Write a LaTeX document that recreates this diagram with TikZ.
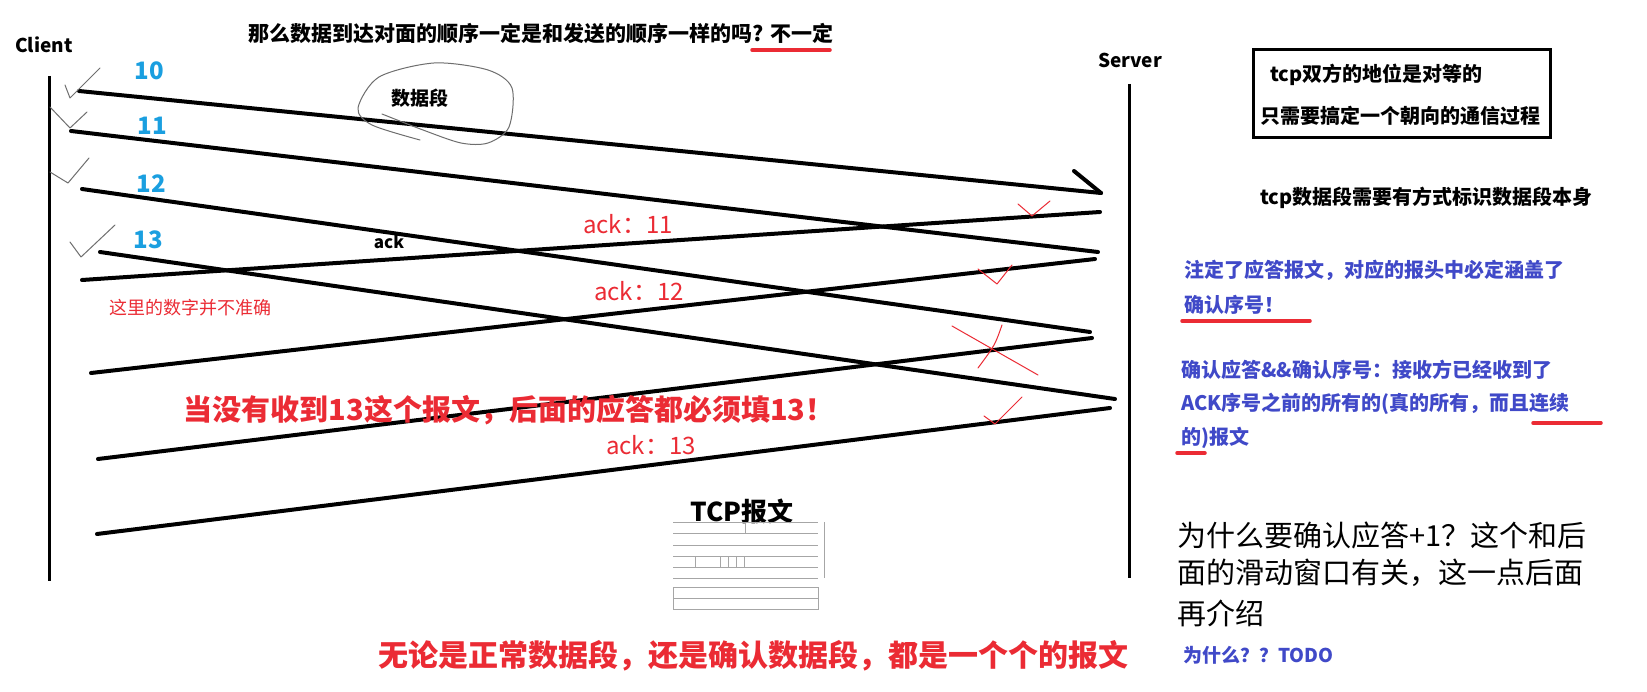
\documentclass[tikz,border=0pt]{standalone}
\usepackage{fontspec}
\setmainfont{Noto Sans CJK SC}
\usepackage{tikz}
\usetikzlibrary{positioning,calc}
\usepackage{xcolor}
\definecolor{seqBlue}{HTML}{1A9FE0}
\definecolor{markRed}{HTML}{EB2B34}
\definecolor{noteBlue}{HTML}{4049C8}
\definecolor{sketchGray}{HTML}{6E6E6E}
\newcommand{\pxfont}[1]{\fontsize{#1}{#1}\selectfont}

\begin{document}
\begin{tikzpicture}[
    x=1pt, y=-1pt,
    lifeline/.style={line width=3pt},
    msg/.style={line width=4pt, line cap=round},
    sketch/.style={draw=sketchGray, line width=1pt, line cap=round, line join=round},
    redmark/.style={draw=markRed, line width=1pt, line cap=round, line join=round},
    redline/.style={draw=markRed, line width=3.5pt, line cap=round},
    tbl/.style={draw=black!35, line width=0.6pt},
    endname/.style={font=\pxfont{19}\bfseries, inner sep=0pt},
    plain/.style={font=\pxfont{19}\bfseries, inner sep=0pt},
    seqnum/.style={text=seqBlue, font=\pxfont{24}\bfseries, inner sep=0pt},
    acktext/.style={text=markRed, font=\pxfont{24}, inner sep=0pt},
    remark/.style={text=markRed, font=\pxfont{29}\bfseries, inner sep=0pt},
    note/.style={text=noteBlue, font=\pxfont{20}\bfseries, anchor=west, inner sep=0pt},
    side/.style={font=\pxfont{20}\bfseries, anchor=west, inner sep=0pt},
    aside/.style={font=\pxfont{29}, anchor=west, inner sep=0pt},
]
    \fill[white] (0,0) rectangle (1647,692);
    \useasboundingbox (0,0) rectangle (1647,692);

    \node[endname] (client) at (44,45) {Client};
    \node[endname] (server) at (1130,60) {Server};
    \coordinate (cTop) at (49,76);
    \coordinate (cBot) at (49,581);
    \coordinate (sTop) at (1129,84);
    \coordinate (sBot) at (1129,578);
    \draw[lifeline] (cTop) -- (cBot);
    \draw[lifeline] (sTop) -- (sBot);

    \node[plain, font=\pxfont{21}\bfseries] (question) at (541,34) {那么数据到达对面的顺序一定是和发送的顺序一样的吗? 不一定};
    \draw[redline] (752,50) -- (830,50);

    % segments client -> server
    \coordinate (c10) at (79,91);    \coordinate (s10) at (1101,193);
    \coordinate (c11) at (71,131);   \coordinate (s11) at (1098,252);
    \coordinate (c12) at (82,189);   \coordinate (s12) at (1090,332);
    \coordinate (c13) at (100,252);  \coordinate (s13) at (1115,399);
    \coordinate (hook) at (1074,171);
    \draw[msg] (c10) -- (s10);
    \draw[msg] (hook) -- (s10);
    \draw[msg] (c11) -- (s11);
    \draw[msg] (c12) -- (s12);
    \draw[msg] (c13) -- (s13);

    % acks server -> client
    \coordinate (sa1) at (1100,212); \coordinate (ca1) at (82,280);
    \coordinate (sa2) at (1095,259); \coordinate (ca2) at (91,373);
    \coordinate (sa3) at (1092,338); \coordinate (ca3) at (98,459);
    \coordinate (sa4) at (1110,408); \coordinate (ca4) at (97,534);
    \draw[msg] (sa1) -- (ca1);
    \draw[msg] (sa2) -- (ca2);
    \draw[msg] (sa3) -- (ca3);
    \draw[msg] (sa4) -- (ca4);

    \node[seqnum] (n10) at (149,71) {10};
    \node[seqnum] (n11) at (152,126) {11};
    \node[seqnum] (n12) at (151,184) {12};
    \node[seqnum] (n13) at (148,240) {13};

    \draw[sketch] (65,85) -- (70,98) -- (100,68);
    \draw[sketch] (50,107) -- (70,128) -- (87,112);
    \draw[sketch] (50,172) -- (68,183) -- (89,158);
    \draw[sketch] (70,242) -- (81,257) -- (115,225);

    \node[plain] (segword) at (420,98) {数据段};
    \draw[sketch] plot[smooth] coordinates {(420,140) (372,125) (358,108) (379,77)
        (434,63) (488,70) (512,88) (509,127) (488,143) (461,143) (423,130) (382,114)};

    \node[plain, font=\pxfont{17}\bfseries] (ackword) at (389,242) {ack};
    \node[acktext] (ack11) at (628,224) {ack：11};
    \node[acktext] (ack12) at (639,291) {ack：12};
    \node[acktext] (ack13) at (651,445) {ack：13};
    \node[text=markRed, font=\pxfont{18}, inner sep=0pt] (notexact) at (190,308) {这里的数字并不准确};
    \node[remark] (must13) at (509,410) {当没有收到13这个报文，后面的应答都必须填13！};

    \draw[redmark] (1018,204) -- (1032,216) -- (1050,201);
    \draw[redmark] (978,269) -- (997,284) -- (1012,265);
    \draw[redmark] (952,326) -- (1038,375);
    \draw[redmark] (1002,325) .. controls (995,345) .. (978,368);
    \draw[redmark] (984,416) -- (995,424) -- (1022,397);

    % tcp header sketch
    \node[font=\pxfont{26}\bfseries, inner sep=0pt] (tcphdr) at (742,512) {TCP报文};
    \foreach \yy in {522,533,545,556,567,578}
        \draw[tbl] (673,\yy) -- (818,\yy);
    \draw[tbl] (673,587) rectangle (818,609);
    \draw[tbl] (673,598) -- (818,598);
    \draw[tbl] (695,556) -- (695,567);
    \draw[tbl] (720,556) -- (720,567);
    \draw[tbl] (728,556) -- (728,567);
    \draw[tbl] (736,556) -- (736,567);
    \draw[tbl] (744,556) -- (744,567);
    \draw[tbl] (745,522) -- (745,533);
    \draw[tbl] (824,522) -- (824,578);

    \node[text=markRed, font=\pxfont{30}\bfseries, inner sep=0pt] (allmsg) at (753,656)
        {无论是正常数据段，还是确认数据段，都是一个个的报文};

    % right column
    \node[draw, line width=3pt, minimum width=297pt, minimum height=88pt] (peerbox) at (1402,94) {};
    \node[side] (peer1) at (1270,75) {tcp双方的地位是对等的};
    \node[side] (peer2) at (1260,116) {只需要搞定一个朝向的通信过程};
    \node[side] (ident) at (1260,198) {tcp数据段需要有方式标识数据段本身};
    \node[note] (hdr1) at (1184,270) {注定了应答报文，对应的报头中必定涵盖了};
    \node[note] (hdr2) at (1184,305) {确认序号！};
    \draw[redline] (1182,321) -- (1310,321);
    \node[note] (cum1) at (1181,370) {确认应答\&\&确认序号：接收方已经收到了};
    \node[note] (cum2) at (1181,404) {ACK序号之前的所有的(真的所有，而且连续};
    \node[note] (cum3) at (1181,438) {的)报文};
    \draw[redline] (1533,423) -- (1601,423);
    \draw[redline] (1177,453) -- (1205,453);

    \node[aside] (why1) at (1177,535) {为什么要确认应答+1？这个和后};
    \node[aside] (why2) at (1177,573) {面的滑动窗口有关，这一点后面};
    \node[aside] (why3) at (1177,613) {再介绍};
    \node[note, font=\pxfont{19}\bfseries] (todo) at (1183,655) {为什么？？TODO};
\end{tikzpicture}
\end{document}
